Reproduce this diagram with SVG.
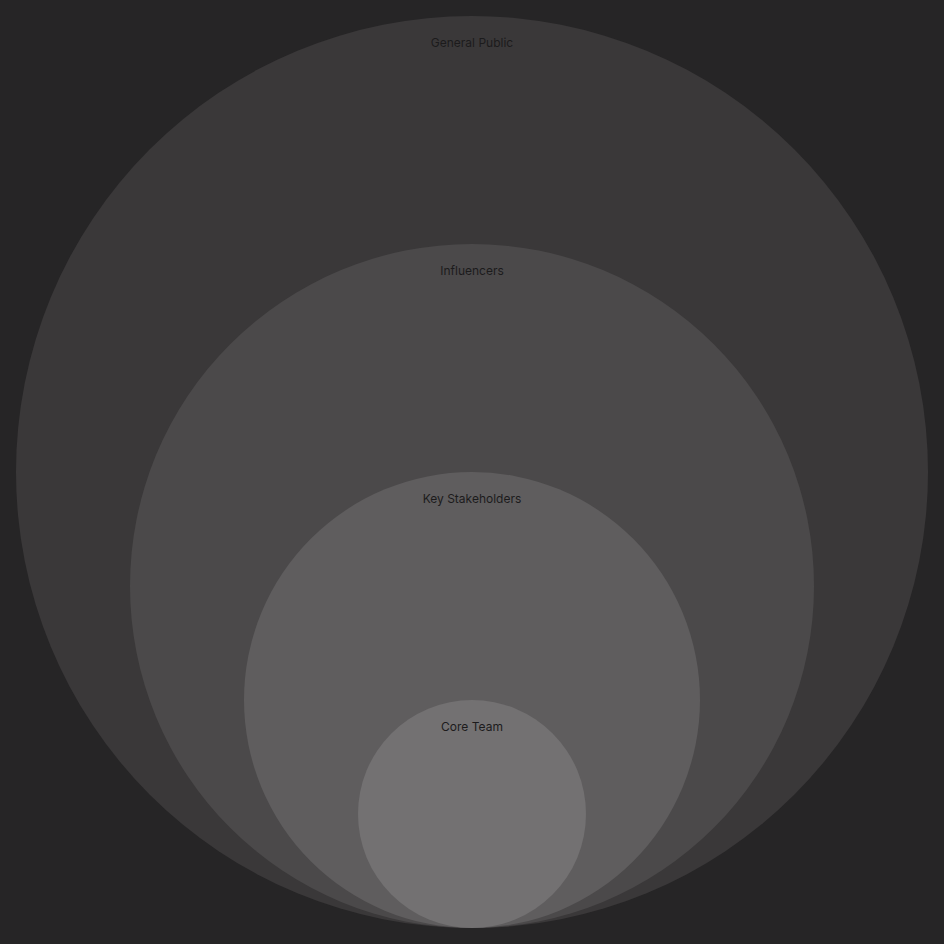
<svg xmlns="http://www.w3.org/2000/svg" width="944" height="944" viewBox="0 0 944 944">
<style>
.lbl{font-family:Inter,"Liberation Sans",sans-serif;font-size:12px;fill:#1c1b1c;text-anchor:middle}
</style>
<rect width="944" height="944" fill="#262526"/>
<g id="general-public"><circle cx="472" cy="472" r="456" fill="#3a3839"/><text class="lbl" x="472" y="47">General Public</text></g>
<g id="influencers"><circle cx="472" cy="586" r="342" fill="#4b494a"/><text class="lbl" x="472" y="275">Influencers</text></g>
<g id="key-stakeholders"><circle cx="472" cy="700" r="228" fill="#5f5d5e"/><text class="lbl" x="472" y="503">Key Stakeholders</text></g>
<g id="core-team"><circle cx="472" cy="814" r="114" fill="#737172"/><text class="lbl" x="472" y="731">Core Team</text></g>
<g id="connectors"/>
</svg>
